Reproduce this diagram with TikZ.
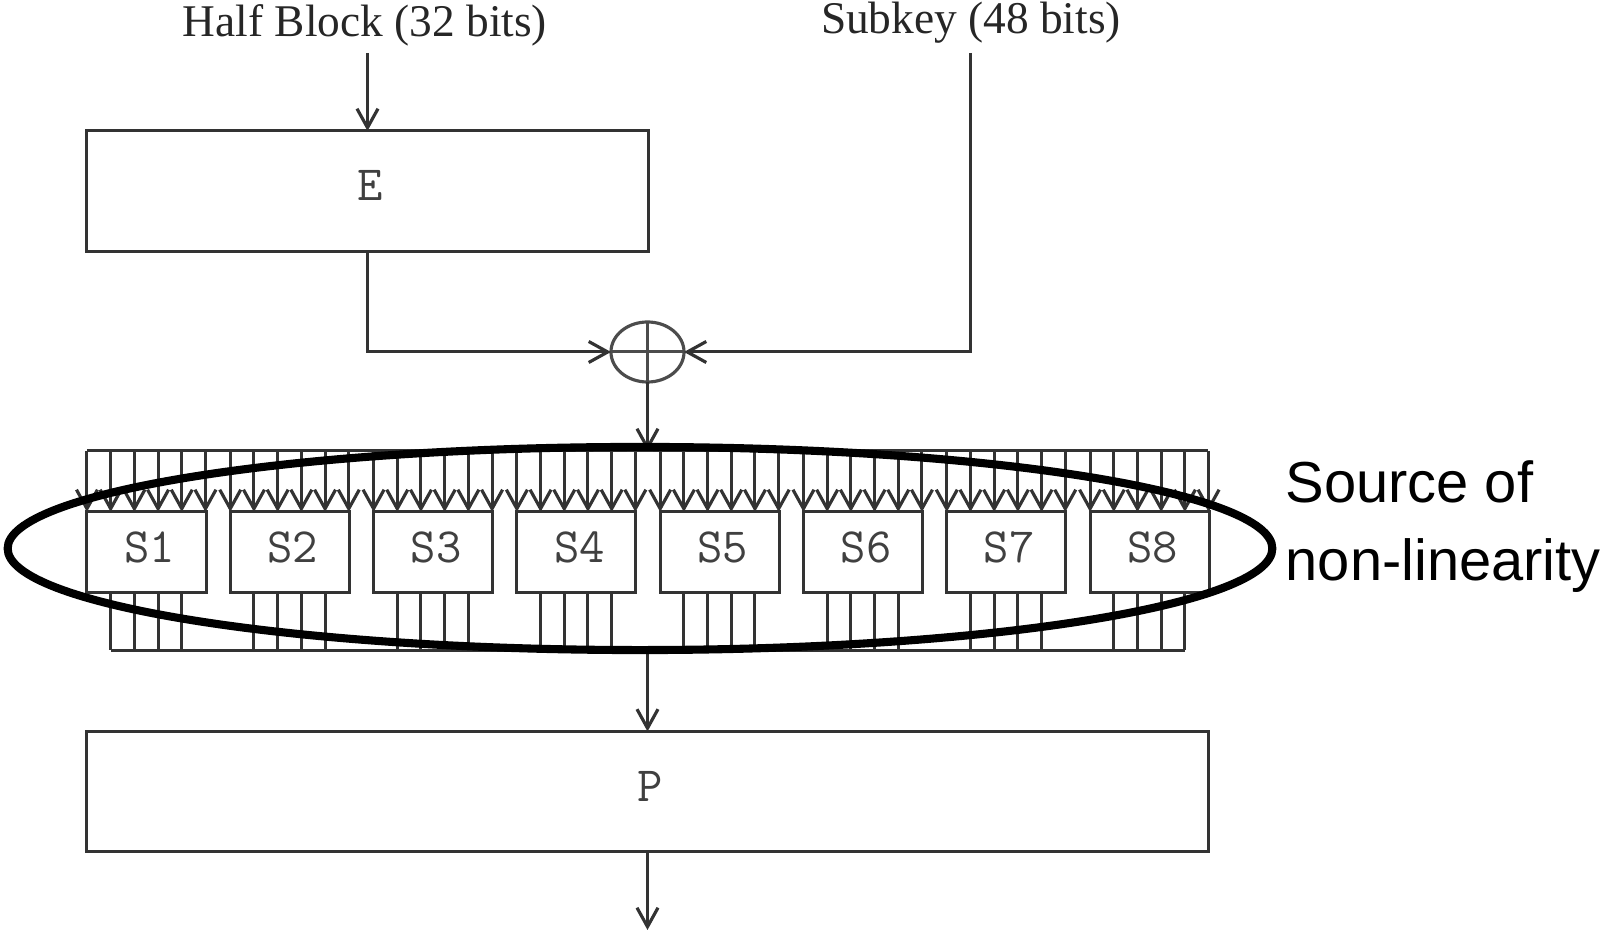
\documentclass[tikz,border=0pt]{standalone}
\usepackage{fontspec}
\setmainfont{Liberation Serif}
\setsansfont{Liberation Sans}
\usepackage{tikz}
\usetikzlibrary{positioning, arrows.meta, shapes.geometric, calc}

\begin{document}
\begin{tikzpicture}[
        x=0.01cm, y=-0.01cm,
        wire/.style={line width=0.85pt, black!80},
        arrowwire/.style={wire, -{Straight Barb[length=0.19cm, width=0.21cm, line width=0.9pt]}},
        bigbox/.style={rectangle, draw=black!80, line width=0.85pt, outer sep=0pt, inner sep=0pt, font=\ttfamily\fontsize{14}{16}\selectfont, text=black!75, text depth=3pt, execute at begin node=\hspace*{1.7pt}},
        sbox/.style={bigbox, minimum width=1.19cm, minimum height=0.80cm},
        xorgate/.style={ellipse, draw=black!70, line width=0.9pt, outer sep=0pt, inner sep=0pt, minimum width=0.73cm, minimum height=0.60cm},
        toplabel/.style={font=\fontsize{12.9}{15}\selectfont, text=black!85, inner sep=0pt},
    ]
    \useasboundingbox (0,0) rectangle (1602,934);

    % Input labels
    \node[toplabel] (half) at (365,25) {Half Block (32 bits)};
    \node[toplabel] (subkey) at (971,23) {Subkey (48 bits)};

    % Expansion and permutation boxes
    \node[bigbox, minimum width=5.61cm, minimum height=1.20cm] (e) at (367.5,191) {E};
    \node[bigbox, minimum width=11.21cm, minimum height=1.20cm] (p) at (647.5,791.5) {P};

    % XOR gate
    \node[xorgate] (xor) at (647.5,352) {};
    \draw[wire, black!70] (xor.north) -- (xor.south);
    \draw[wire, black!70] (xor.west) -- (xor.east);

    % Bus ends
    \coordinate (topl) at (87,451);
    \coordinate (topr) at (1208,451);
    \coordinate (botl) at (110.8,650.5);
    \coordinate (botr) at (1185,650.5);
    \coordinate (keyin) at (970,53);
    \coordinate (halfin) at (367.5,53);
    \coordinate (pin) at (647.5,650.5);
    \coordinate (out) at (647.5,930);

    % Upper connections
    \draw[arrowwire] (halfin) -- (e.north);
    \draw[arrowwire] (e.south) |- (xor.west);
    \draw[arrowwire] (keyin) |- (xor.east);
    \draw[arrowwire] (xor.south) -- (xor.south |- topl);

    % S boxes with their wires
    \draw[wire] (topl) -- (topr);
    \draw[wire] (botl) -- (botr);
    \foreach \i in {1,...,8} {
        \pgfmathsetmacro{\bx}{146.5+143.3*(\i-1)}
        \node[sbox] (s\i) at (\bx,552) {S\i};
        \foreach \w in {0,...,5} {
            \coordinate (in\i\w) at ($(s\i.north west)+(23.7*\w,0)$);
            \draw[arrowwire] (in\i\w |- topl) -- (in\i\w);
        }
        \foreach \w in {1,...,4} {
            \coordinate (out\i\w) at ($(s\i.south west)+(23.7*\w,0)$);
            \draw[wire] (out\i\w) -- (out\i\w |- botl);
        }
    }

    % Lower connections
    \draw[arrowwire] (pin) -- (p.north);
    \draw[arrowwire] (p.south) -- (out);

    % Highlight
    \node[ellipse, draw=black, line width=2.3pt, inner sep=0pt, minimum width=12.64cm, minimum height=2.03cm] (nonlin) at (640,548.5) {};
    \node[font=\sffamily\fontsize{16.45}{22.2}\selectfont, align=left, anchor=west, inner sep=0pt] (source) at (1285,526.5) {Source of\\non-linearity};
\end{tikzpicture}
\end{document}
